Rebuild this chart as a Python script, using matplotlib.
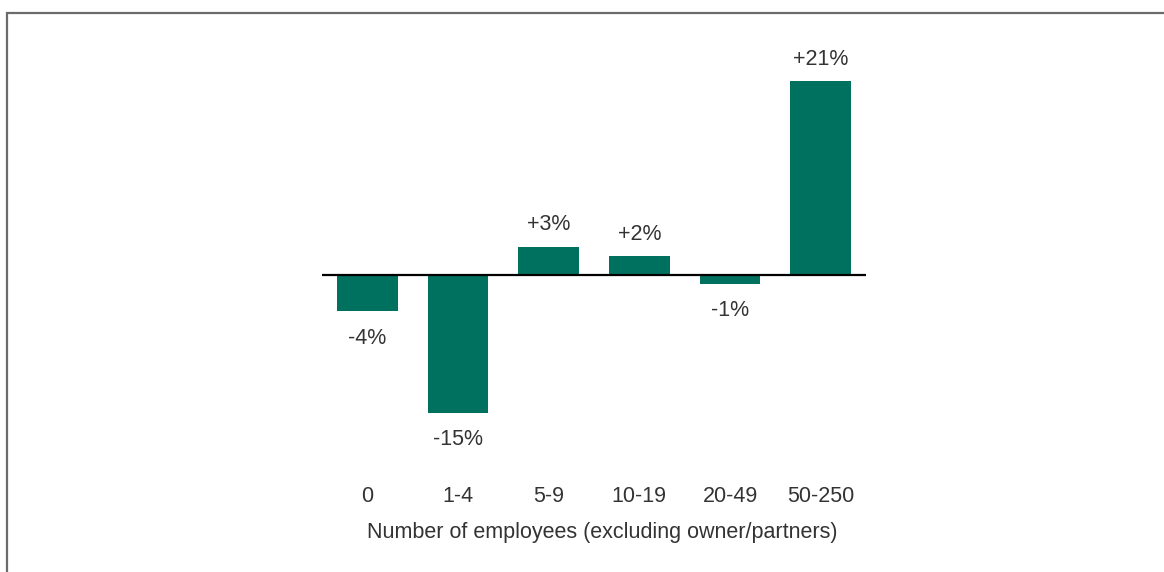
import matplotlib
matplotlib.use("Agg")
import matplotlib.pyplot as plt
from matplotlib.patches import Rectangle

plt.rcParams['font.family'] = ['Liberation Sans', 'DejaVu Sans']

categories = ["0", "1-4", "5-9", "10-19", "20-49", "50-250"]
changes = [-4, -15, 3, 2, -1, 21]
labels = ["-4%", "-15%", "+3%", "+2%", "-1%", "+21%"]

green = "#00705f"
text_col = "#333333"
fs = 15.5

fig = plt.figure(figsize=(11.64, 5.72), dpi=100)
ax = fig.add_axes([0.2766, 0.2273, 0.4674, 0.6818])

x = range(len(categories))
ax.bar(x, changes, width=0.67, color=green, zorder=2)
ax.axhline(0, color="black", lw=1.6, zorder=3)

for xi, v, lab in zip(x, changes, labels):
    dy = 22 if v >= 0 else -27
    ax.annotate(lab, (xi, v), xytext=(0, dy), textcoords="offset pixels",
                ha="center", va="center", fontsize=fs, color=text_col)

ax.set_xlim(-0.5, 5.5)
ax.set_ylim(-18.2, 24.2)
ax.set_yticks([])
ax.set_xticks(list(x))
ax.set_xticklabels(categories, fontsize=fs, color=text_col)
ax.tick_params(axis="x", length=0, pad=32)
ax.set_xlabel("Number of employees (excluding owner/partners)", fontsize=fs,
              color=text_col, va="center")
ax.xaxis.set_label_coords(0.515, -0.232)
for s in ax.spines.values():
    s.set_visible(False)

# frame around the figure, running off the right and bottom edges
fig.patches.append(Rectangle((6.5 / 1164, -0.2), 1.5, 1.2 - 13 / 572,
                             transform=fig.transFigure, fill=False,
                             edgecolor="#6b6b6b", lw=1.6))

fig.savefig("out.png", dpi=100)
